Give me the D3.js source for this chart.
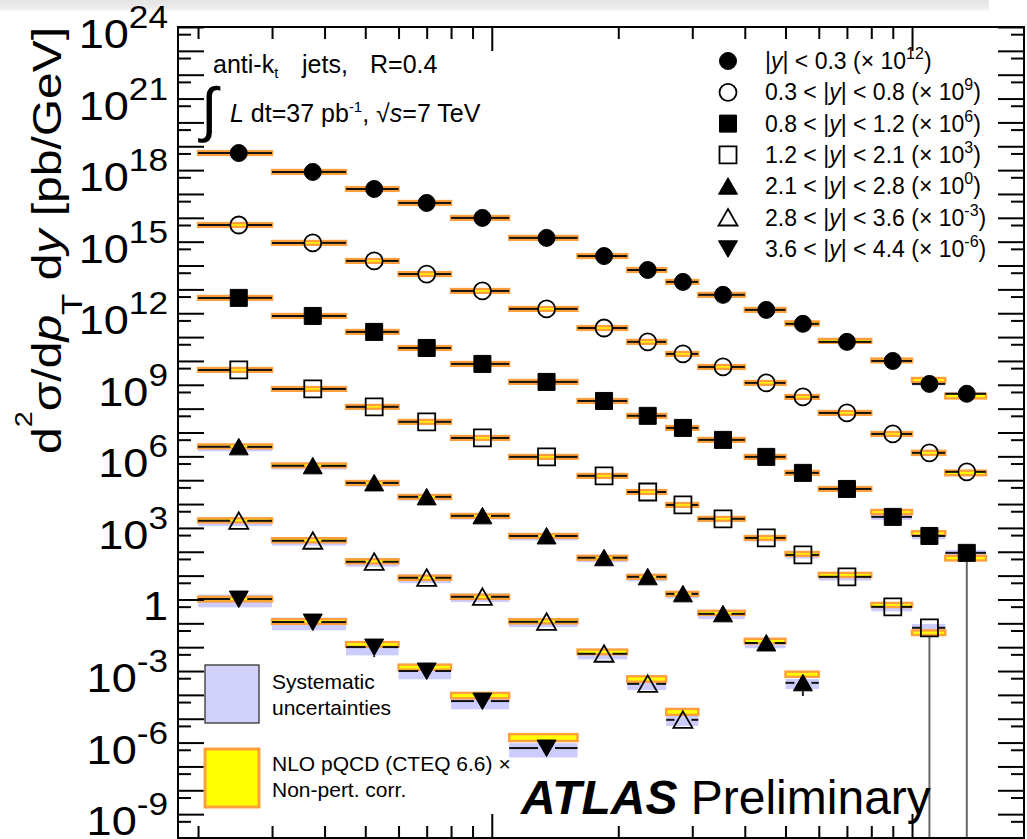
<!DOCTYPE html>
<html>
<head>
<meta charset="utf-8">
<script src="https://cdn.jsdelivr.net/npm/d3@7/dist/d3.min.js"></script>
<style>
html,body{margin:0;padding:0;background:#fff;}
svg{display:block;}
text{font-family:"Liberation Sans",Arial,Helvetica,sans-serif;fill:#000;white-space:pre;}
</style>
</head>
<body>
<svg id="chart" width="1027" height="839"></svg>
<script>
// ---------------- data ----------------
const ptEdges = [20,30,45,60,80,110,160,210,260,310,400,500,600,800,1000,1200,1500];
const rapidityEdges = [0,0.3,0.8,1.2,2.1,2.8,3.6,4.4];
const scalePowers = [12,9,6,3,0,-3,-6];
const yLabelPowers = [24,21,18,15,12,9,6,3,0,-3,-6,-9];

// measured cross sections d2sigma/dpT dy [pb/GeV] (before scaling)
const xsec1 = [5.2e6,8.4e5,1.62e5,4.2e4,9.9e3,1.44e3,250,65,20.6,5.9,1.38,0.36,0.063,0.010,1.09e-3,4.2e-4];
const xsec2 = [5.0e6,8.9e5,1.56e5,4.4e4,8.6e3,1.52e3,240,63,19.7,5.6,1.2,0.31,0.066,8.7e-3,1.4e-3,2.24e-4];
const xsec3 = [4.4e6,7.7e5,1.65e5,3.5e4,7.5e3,1.32e3,210,50,15.6,4.9,0.95,0.203,0.043,2.9e-3,4.6e-4,9.0e-5];
const xsec4 = [4.2e6,6.7e5,1.19e5,2.8e4,5.9e3,950,152,32,9.2,2.4,0.38,0.074,8.9e-3,4.9e-4,6.5e-5];
const xsec5 = [2.5e6,4.0e5,7.7e4,2.0e4,3.2e3,460,56,8.9,1.72,0.25,0.015,3.2e-4];
const xsec6 = [1.98e6,2.9e5,3.8e4,8.1e3,1.29e3,116,5.3,0.29,9.0e-3];
const xsec7 = [1.04e6,1.13e5,1.01e4,1.0e3,55,0.59];

// NLO pQCD x non-pert. corr. relative to data
const nloRatio1 = [1,1,1,1,1,1,1,1,1,1,1,1.05,1.1,1.05,1.45,0.8];
const nloRatio2 = [1,1,1,1,1,1,1,1,1,1,1,1,1,1,1,0.9];
const nloRatio3 = [1,1,1,1,1,1,1,1,1,1,1,1,1,1.6,1.3,0.6];
const nloRatio4 = [1,1,1,1,1,1,1,1,1,1,1,1.1,1.2,1.2,0.62];
const nloRatio5 = [1.05,1.05,1,1,1,1,1,1,1,1.1,1.2,2.3];
const nloRatio6 = [1.05,1.05,1.05,1,1,1.05,1.2,1.6,2.15];
const nloRatio7 = [1,1.05,1.3,1.45,1.7,2.75];

// NLO theory uncertainty (relative)
const nloUnc1 = [0.2,0.2,0.2,0.2,0.2,0.2,0.2,0.2,0.2,0.2,0.2,0.2,0.2,0.2,0.22,0.25];
const nloUnc2 = [0.2,0.2,0.2,0.2,0.2,0.2,0.2,0.2,0.2,0.2,0.2,0.2,0.2,0.2,0.22,0.25];
const nloUnc3 = [0.2,0.2,0.2,0.2,0.2,0.2,0.2,0.2,0.2,0.2,0.2,0.2,0.2,0.22,0.22,0.25];
const nloUnc4 = [0.2,0.2,0.2,0.2,0.2,0.2,0.2,0.2,0.2,0.2,0.2,0.2,0.22,0.22,0.25];
const nloUnc5 = [0.2,0.2,0.2,0.2,0.2,0.2,0.2,0.2,0.2,0.22,0.25,0.28];
const nloUnc6 = [0.22,0.22,0.22,0.22,0.22,0.22,0.25,0.3,0.33];
const nloUnc7 = [0.25,0.25,0.25,0.28,0.3,0.4];

// systematic uncertainty (relative)
const sysUnc1 = [0.15,0.12,0.1,0.1,0.1,0.1,0.1,0.1,0.1,0.1,0.12,0.12,0.15,0.15,0.15,0.2];
const sysUnc2 = [0.15,0.12,0.12,0.12,0.12,0.12,0.12,0.12,0.12,0.12,0.15,0.15,0.15,0.18,0.2,0.2];
const sysUnc3 = [0.2,0.18,0.15,0.15,0.15,0.15,0.15,0.15,0.15,0.18,0.2,0.2,0.22,0.25,0.28,0.3];
const sysUnc4 = [0.25,0.22,0.2,0.2,0.2,0.2,0.2,0.22,0.25,0.25,0.28,0.3,0.3,0.35,0.45];
const sysUnc5 = [0.35,0.3,0.3,0.3,0.3,0.35,0.35,0.35,0.35,0.4,0.4,0.45];
const sysUnc6 = [0.4,0.38,0.38,0.4,0.4,0.4,0.42,0.45,0.45];
const sysUnc7 = [0.55,0.55,0.55,0.55,0.55,0.6];

// points whose statistical error extends downward (series no., bin no., relative size)
const statDownSeries = [3,4,5,7];
const statDownBin = [16,15,12,3];
const statDownFrac = [1.0,1.0,0.72,0.62];

// ---------------- styles ----------------
const markerShape = ["circle","circle","square","square","up","up","down"];
const markerFilled = [true,false,true,false,true,false,true];

const L=178,R=1024,T=27,B=838;
const svg=d3.select("#chart");

const x=d3.scaleLog().domain([17.92,1847]).range([L,R]);
const y=d3.scaleLog().domain([1e-10,1e24]).range([B,T]);

const xsecs=[xsec1,xsec2,xsec3,xsec4,xsec5,xsec6,xsec7];
const nloRatios=[nloRatio1,nloRatio2,nloRatio3,nloRatio4,nloRatio5,nloRatio6,nloRatio7];
const nloUncs=[nloUnc1,nloUnc2,nloUnc3,nloUnc4,nloUnc5,nloUnc6,nloUnc7];
const sysUncs=[sysUnc1,sysUnc2,sysUnc3,sysUnc4,sysUnc5,sysUnc6,sysUnc7];

const series=xsecs.map((vals,i)=>{
  const sc=Math.pow(10,scalePowers[i]);
  return {i, pts: vals.map((v,j)=>({
    lo:ptEdges[j], hi:ptEdges[j+1], c:(ptEdges[j]+ptEdges[j+1])/2,
    val:v*sc, th:v*sc*nloRatios[i][j], thU:nloUncs[i][j], sys:sysUncs[i][j]
  }))};
});

// top grey strip (screen chrome)
const grad=svg.append("defs").append("linearGradient").attr("id","shade").attr("x1",0).attr("y1",0).attr("x2",0).attr("y2",1);
grad.append("stop").attr("offset","0%").attr("stop-color","#e4e4e4");
grad.append("stop").attr("offset","70%").attr("stop-color","#ececec");
grad.append("stop").attr("offset","100%").attr("stop-color","#fafafa");
svg.append("rect").attr("x",0).attr("y",0).attr("width",989).attr("height",11).attr("fill","url(#shade)");

const plot=svg.append("g");

// systematic bands
series.forEach(s=>{
  plot.append("g").selectAll("rect").data(s.pts).join("rect")
    .attr("x",d=>x(d.lo)).attr("width",d=>x(d.hi)-x(d.lo))
    .attr("y",d=>y(d.val*(1+d.sys))).attr("height",d=>y(d.val*(1-d.sys))-y(d.val*(1+d.sys)))
    .attr("fill","#ccccff");
});
// theory bands
series.forEach(s=>{
  plot.append("g").selectAll("rect").data(s.pts).join("rect")
    .attr("x",d=>x(d.lo)).attr("width",d=>x(d.hi)-x(d.lo))
    .attr("y",d=>y(d.th*(1+d.thU))).attr("height",d=>y(d.th/(1+d.thU))-y(d.th*(1+d.thU)))
    .attr("fill","#ffff00").attr("stroke","#ff9f3c").attr("stroke-width",2.4);
});
// stat error lines downward
const MH=8.5;
statDownSeries.forEach((sn,k)=>{
  const d=series[sn-1].pts[statDownBin[k]-1];
  const f=statDownFrac[k];
  const yEnd = f>=1 ? B : y(d.val*(1-f));
  plot.append("line").attr("x1",x(d.c)).attr("x2",x(d.c))
    .attr("y1",y(d.val)+MH).attr("y2",yEnd)
    .attr("stroke",f>=1?"#666":"#222").attr("stroke-width",2);
});
// data horizontal bars (x error bars, stopping at marker edge)
series.forEach(s=>{
  const g=plot.append("g");
  s.pts.forEach(d=>{
    const cx=x(d.c), cy=y(d.val);
    g.append("line").attr("x1",x(d.lo)).attr("x2",cx-MH).attr("y1",cy).attr("y2",cy).attr("stroke","#111").attr("stroke-width",2);
    g.append("line").attr("x1",cx+MH).attr("x2",x(d.hi)).attr("y1",cy).attr("y2",cy).attr("stroke","#111").attr("stroke-width",2);
  });
});
// markers
function markerPath(shape){
  if(shape==="circle") return d3.arc()({innerRadius:0,outerRadius:8.5,startAngle:0,endAngle:2*Math.PI});
  if(shape==="square") return "M-8.5,-8.5H8.5V8.5H-8.5Z";
  if(shape==="up") return "M0,-8.5L9.5,8L-9.5,8Z";
  return "M0,8.5L9.5,-8L-9.5,-8Z";
}
function drawMarker(g,i,cx,cy){
  const filled=markerFilled[i];
  g.append("path").attr("d",markerPath(markerShape[i])).attr("transform",`translate(${cx},${cy})`)
    .attr("fill",filled?"#000":"none").attr("stroke","#000").attr("stroke-width",filled?1:1.8);
}
series.forEach(s=>{
  const g=plot.append("g");
  s.pts.forEach(d=>drawMarker(g,s.i,x(d.c),y(d.val)));
});

// ---------------- axes ----------------
const yMajor=d3.range(-10,25).map(p=>Math.pow(10,p));
const yMinor=d3.range(-10,24).map(p=>5*Math.pow(10,p));
const xMajor=[100,1000];
const xMinor=[20,30,40,50,60,70,80,90,200,300,400,500,600,700,800,900];
function styleAxis(g){ g.select(".domain").remove(); g.selectAll(".tick line").attr("stroke","#000").attr("stroke-width",2); g.selectAll(".tick text").remove(); }
const ax=svg.append("g");
ax.append("g").attr("transform",`translate(${L},0)`).call(d3.axisRight(y).tickValues(yMajor).tickSize(26).tickFormat("")).call(styleAxis);
ax.append("g").attr("transform",`translate(${L},0)`).call(d3.axisRight(y).tickValues(yMinor).tickSize(13).tickFormat("")).call(styleAxis);
ax.append("g").attr("transform",`translate(${R},0)`).call(d3.axisLeft(y).tickValues(yMajor).tickSize(26).tickFormat("")).call(styleAxis);
ax.append("g").attr("transform",`translate(${R},0)`).call(d3.axisLeft(y).tickValues(yMinor).tickSize(13).tickFormat("")).call(styleAxis);
ax.append("g").attr("transform",`translate(0,${T})`).call(d3.axisBottom(x).tickValues(xMajor).tickSize(24).tickFormat("")).call(styleAxis);
ax.append("g").attr("transform",`translate(0,${T})`).call(d3.axisBottom(x).tickValues(xMinor).tickSize(12).tickFormat("")).call(styleAxis);
ax.append("g").attr("transform",`translate(0,${B})`).call(d3.axisTop(x).tickValues(xMajor).tickSize(24).tickFormat("")).call(styleAxis);
ax.append("g").attr("transform",`translate(0,${B})`).call(d3.axisTop(x).tickValues(xMinor).tickSize(12).tickFormat("")).call(styleAxis);
svg.append("rect").attr("x",L).attr("y",T).attr("width",R-L).attr("height",B-T).attr("fill","none").attr("stroke","#000").attr("stroke-width",2);

// y tick labels
yLabelPowers.forEach(p=>{
  const g=svg.append("g").attr("transform",`translate(168,${y(Math.pow(10,p))+21}) scale(1.1,1)`);
  const t=g.append("text").attr("text-anchor","end").attr("font-size",41);
  if(p===0){ t.text("1"); }
  else {
    t.append("tspan").text("10");
    t.append("tspan").attr("font-size",32).attr("dy",-20).text(String(p));
  }
});

// y title
{
  const g=svg.append("g").attr("transform","translate(61,454) scale(1,1.2) rotate(-90)");
  const t=g.append("text").attr("font-size",40);
  t.append("tspan").text("d");
  t.append("tspan").attr("font-size",24).attr("dy",-29).text("2");
  t.append("tspan").attr("dy",29).text("σ/d");
  t.append("tspan").attr("font-style","italic").text("p");
  t.append("tspan").attr("font-size",29).attr("dy",21).text("T");
  t.append("tspan").attr("dy",-21).text(" d");
  t.append("tspan").attr("font-style","italic").text("y");
  t.append("tspan").text(" [pb/GeV]");
}

// annotation top-left
{
  const fs=25;
  const t1=svg.append("text").attr("x",213).attr("y",73).attr("font-size",fs);
  t1.append("tspan").text("anti-k");
  t1.append("tspan").attr("font-size",15).attr("dy",5).text("t");
  svg.append("text").attr("x",302).attr("y",73).attr("font-size",fs).text("jets,");
  svg.append("text").attr("x",370).attr("y",73).attr("font-size",fs).text("R=0.4");
  svg.append("text").attr("x",201).attr("y",130).attr("font-size",60).text("∫");
  const t2=svg.append("text").attr("x",230).attr("y",122).attr("font-size",fs);
  t2.append("tspan").attr("font-style","italic").text("L");
  t2.append("tspan").text(" dt=37 pb");
  t2.append("tspan").attr("font-size",15).attr("dy",-10).text("-1");
  t2.append("tspan").attr("dy",10).text(", √");
  t2.append("tspan").attr("font-style","italic").text("s");
  t2.append("tspan").text("=7 TeV");
}

// legend top-right
rapidityEdges.slice(0,-1).forEach((lo,i)=>{
  const hi=rapidityEdges[i+1];
  const ry=61+i*31.3;
  drawMarker(svg.append("g"),i,728,ry);
  const t=svg.append("text").attr("x",765).attr("y",ry+8).attr("font-size",23);
  t.append("tspan").text(i===0?"|":`${lo.toFixed(1)} < |`);
  t.append("tspan").attr("font-style","italic").text("y");
  t.append("tspan").text(`| < ${hi.toFixed(1)} (× 10`);
  t.append("tspan").attr("font-size",16).attr("dy",-10).text(String(scalePowers[i]));
  t.append("tspan").attr("dy",10).text(")");
});

// legend bottom-left
svg.append("rect").attr("x",205).attr("y",665).attr("width",54).attr("height",58).attr("fill","#d0d0f8").attr("stroke","#333").attr("stroke-width",1.3);
svg.append("rect").attr("x",205).attr("y",749).attr("width",54).attr("height",58).attr("fill","#ffff00").attr("stroke","#ff9f3c").attr("stroke-width",3);
svg.append("text").attr("x",272).attr("y",689).attr("font-size",21).text("Systematic");
svg.append("text").attr("x",272).attr("y",715).attr("font-size",21).text("uncertainties");
svg.append("text").attr("x",272).attr("y",771).attr("font-size",21).text("NLO pQCD (CTEQ 6.6) ×");
svg.append("text").attr("x",272).attr("y",797).attr("font-size",21).text("Non-pert. corr.");

// ATLAS label
{
  const t=svg.append("text").attr("x",521).attr("y",814).attr("font-size",48);
  t.append("tspan").attr("font-weight","bold").attr("font-style","italic").text("ATLAS");
  t.append("tspan").text(" Preliminary");
}
</script>
</body>
</html>
